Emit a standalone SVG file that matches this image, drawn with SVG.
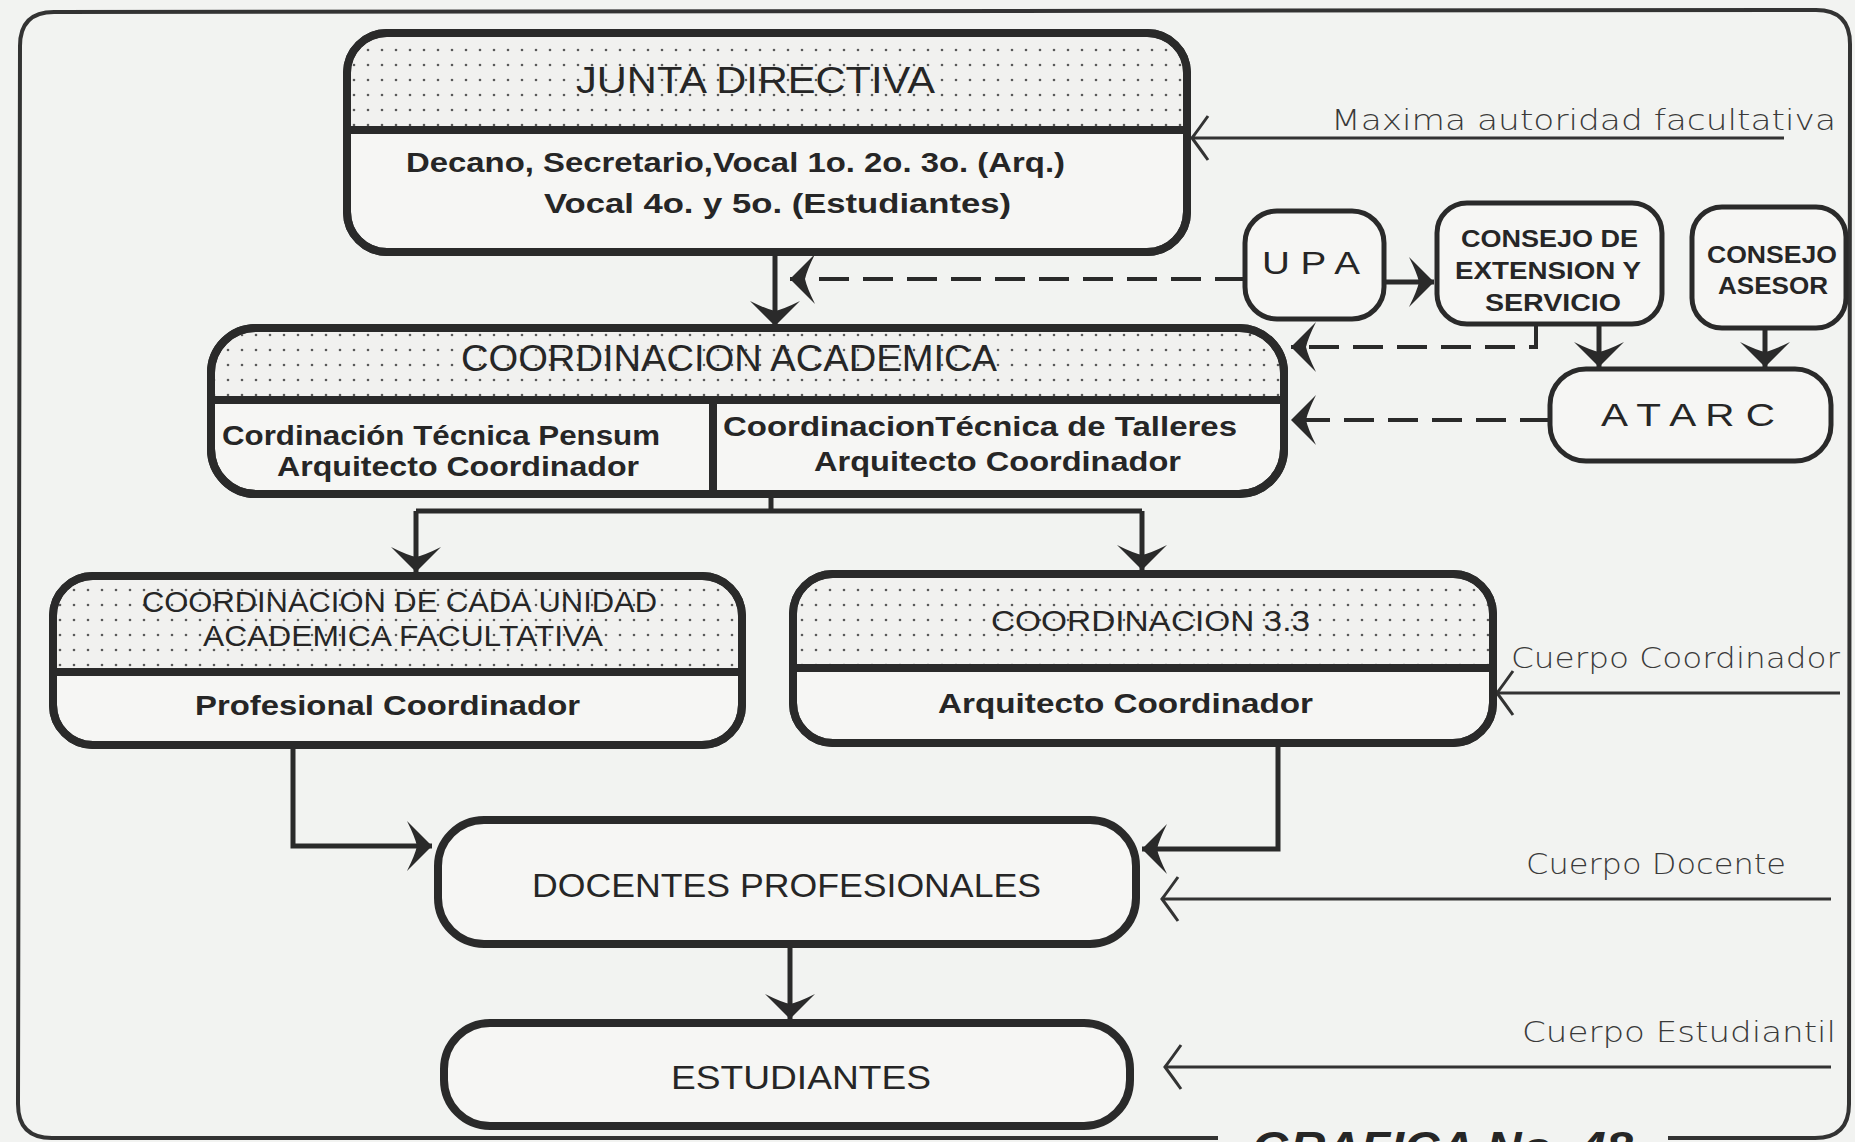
<svg xmlns="http://www.w3.org/2000/svg" width="1855" height="1142" viewBox="0 0 1855 1142">
<style>
.bg{fill:#f2f3f1}
.box{fill:#f6f6f4;stroke:#2a2a2a;stroke-width:8}
.sbox{fill:#f6f6f4;stroke:#2a2a2a;stroke-width:5}
.hdr{fill:url(#dots);stroke:none}
.div{stroke:#2a2a2a;stroke-width:8;fill:none}
.con{stroke:#2a2a2a;stroke-width:5;fill:none}
.dash{stroke:#2a2a2a;stroke-width:4;fill:none;stroke-dasharray:30 14}
.thin{stroke:#333;stroke-width:3;fill:none}
.frame{stroke:#333;stroke-width:4;fill:none}
.t{font-family:"Liberation Sans","DejaVu Sans",sans-serif;fill:#262626}
.h{font-size:36px;font-weight:normal}
.b{font-size:28px;font-weight:bold}
.lbl{font-family:"DejaVu Sans","Liberation Sans",sans-serif;font-size:29px;font-weight:300;fill:#3a3a3a}
</style>
<defs>
<pattern id="dots" width="14" height="15" patternUnits="userSpaceOnUse">
<rect width="14" height="15" fill="#f1f1ef"/>
<circle cx="4" cy="5" r="1.3" fill="#5a5a5a"/>
</pattern>
<marker id="ah" viewBox="-28 -28 30 56" refX="0" refY="0" markerWidth="30" markerHeight="56" orient="auto" markerUnits="userSpaceOnUse">
<path d="M0,0 L-25,-25 Q-17,-9 -15,0 Q-17,9 -25,25 Z" fill="#2a2a2a"/>
</marker>
<marker id="oh" viewBox="-20 -26 24 52" refX="0" refY="0" markerWidth="24" markerHeight="52" orient="auto" markerUnits="userSpaceOnUse">
<path d="M-16,-22 Q-6,-8 0,0 Q-6,8 -16,22" fill="none" stroke="#333" stroke-width="3"/>
</marker>
</defs>
<rect class="bg" x="0" y="0" width="1855" height="1142"/>
<path class="frame" d="M1218,1138 L52,1138 Q18,1138 18,1104 L20,46 Q20,12 54,12 L1816,10 Q1850,10 1850,44 L1849,1104 Q1849,1138 1815,1138 L1668,1138"/>

<g id="connectors">
<path class="con" d="M775,252 L775,326" marker-end="url(#ah)"/>
<path class="dash" d="M1245,279 L790,279" marker-end="url(#ah)"/>
<path class="con" d="M1384,282 L1434,282" marker-end="url(#ah)"/>
<path class="con" d="M1599,324 L1599,367" marker-end="url(#ah)"/>
<path class="con" d="M1765,328 L1765,367" marker-end="url(#ah)"/>
<path class="dash" d="M1536,324 L1536,347 L1291,347" marker-end="url(#ah)"/>
<path class="dash" d="M1550,420 L1291,420" marker-end="url(#ah)"/>
<path class="con" d="M771,494 L771,511 M416,511 L1142,511"/>
<path class="con" d="M416,511 L416,572" marker-end="url(#ah)"/>
<path class="con" d="M1142,511 L1142,570" marker-end="url(#ah)"/>
<path class="con" d="M293,745 L293,846 L432,846" marker-end="url(#ah)"/>
<path class="con" d="M1278,743 L1278,849 L1142,849" marker-end="url(#ah)"/>
<path class="con" d="M790,944 L790,1019" marker-end="url(#ah)"/>
<path class="thin" d="M1784,138 L1192,138" marker-end="url(#oh)"/>
<path class="thin" d="M1840,693 L1497,693" marker-end="url(#oh)"/>
<path class="thin" d="M1831,899 L1162,899" marker-end="url(#oh)"/>
<path class="thin" d="M1831,1067 L1165,1067" marker-end="url(#oh)"/>
</g>

<g id="junta">
<rect class="box" x="347" y="33" width="840" height="219" rx="40"/>
<path class="hdr" d="M351,130 L351,73 A36,36 0 0 1 387,37 L1147,37 A36,36 0 0 1 1183,73 L1183,130 Z"/>
<line class="div" x1="347" y1="130" x2="1187" y2="130"/>
<rect x="347" y="33" width="840" height="219" rx="40" fill="none" stroke="#2a2a2a" stroke-width="8"/>
<text class="t h" x="576" y="93" textLength="359" lengthAdjust="spacingAndGlyphs">JUNTA DIRECTIVA</text>
<text class="t b" x="406" y="172" textLength="659" lengthAdjust="spacingAndGlyphs">Decano, Secretario,Vocal 1o. 2o. 3o. (Arq.)</text>
<text class="t b" x="544" y="213" textLength="467" lengthAdjust="spacingAndGlyphs">Vocal 4o. y 5o. (Estudiantes)</text>
</g>

<g id="upa">
<rect class="sbox" x="1245" y="211" width="139" height="108" rx="32"/>
<text class="t" x="1262" y="274" font-size="31" textLength="98" lengthAdjust="spacingAndGlyphs">U P A</text>
</g>

<g id="consejo-extension">
<rect class="sbox" x="1437" y="203" width="225" height="121" rx="30"/>
<text class="t" x="1461" y="247" font-size="24" font-weight="bold" textLength="177" lengthAdjust="spacingAndGlyphs">CONSEJO DE</text>
<text class="t" x="1455" y="279" font-size="24" font-weight="bold" textLength="186" lengthAdjust="spacingAndGlyphs">EXTENSION Y</text>
<text class="t" x="1485" y="311" font-size="24" font-weight="bold" textLength="136" lengthAdjust="spacingAndGlyphs">SERVICIO</text>
</g>

<g id="consejo-asesor">
<rect class="sbox" x="1692" y="207" width="154" height="121" rx="30"/>
<text class="t" x="1707" y="263" font-size="24" font-weight="bold" textLength="130" lengthAdjust="spacingAndGlyphs">CONSEJO</text>
<text class="t" x="1718" y="294" font-size="24" font-weight="bold" textLength="110" lengthAdjust="spacingAndGlyphs">ASESOR</text>
</g>

<g id="atarc">
<rect class="sbox" x="1550" y="369" width="281" height="92" rx="36"/>
<text class="t" x="1601" y="426" font-size="32" textLength="174" lengthAdjust="spacingAndGlyphs">A T A R C</text>
</g>

<g id="coordinacion-academica">
<rect class="box" x="211" y="328" width="1073" height="166" rx="45"/>
<path class="hdr" d="M215,400 L215,373 A41,41 0 0 1 256,332 L1239,332 A41,41 0 0 1 1280,373 L1280,400 Z"/>
<line class="div" x1="211" y1="400" x2="1284" y2="400"/>
<line class="div" x1="713" y1="400" x2="713" y2="494"/>
<rect x="211" y="328" width="1073" height="166" rx="45" fill="none" stroke="#2a2a2a" stroke-width="8"/>
<text class="t h" x="461" y="371" textLength="536" lengthAdjust="spacingAndGlyphs">COORDINACION ACADEMICA</text>
<text class="t b" x="222" y="445" textLength="438" lengthAdjust="spacingAndGlyphs">Cordinación Técnica Pensum</text>
<text class="t b" x="277" y="476" textLength="362" lengthAdjust="spacingAndGlyphs">Arquitecto Coordinador</text>
<text class="t b" x="723" y="436" textLength="514" lengthAdjust="spacingAndGlyphs">CoordinacionTécnica de Talleres</text>
<text class="t b" x="814" y="471" textLength="367" lengthAdjust="spacingAndGlyphs">Arquitecto Coordinador</text>
</g>

<g id="coordinacion-unidad">
<rect class="box" x="53" y="576" width="689" height="169" rx="40"/>
<path class="hdr" d="M57,672 L57,616 A36,36 0 0 1 93,580 L702,580 A36,36 0 0 1 738,616 L738,672 Z"/>
<line class="div" x1="53" y1="672" x2="742" y2="672"/>
<rect x="53" y="576" width="689" height="169" rx="40" fill="none" stroke="#2a2a2a" stroke-width="8"/>
<text class="t" x="142" y="612" font-size="30" textLength="515" lengthAdjust="spacingAndGlyphs">COORDINACION DE CADA UNIDAD</text>
<text class="t" x="203" y="646" font-size="30" textLength="400" lengthAdjust="spacingAndGlyphs">ACADEMICA FACULTATIVA</text>
<text class="t b" x="195" y="715" textLength="385" lengthAdjust="spacingAndGlyphs">Profesional Coordinador</text>
</g>

<g id="coordinacion-33">
<rect class="box" x="793" y="574" width="700" height="169" rx="40"/>
<path class="hdr" d="M797,668 L797,614 A36,36 0 0 1 833,578 L1453,578 A36,36 0 0 1 1489,614 L1489,668 Z"/>
<line class="div" x1="793" y1="668" x2="1493" y2="668"/>
<rect x="793" y="574" width="700" height="169" rx="40" fill="none" stroke="#2a2a2a" stroke-width="8"/>
<text class="t" x="991" y="631" font-size="30" textLength="319" lengthAdjust="spacingAndGlyphs">COORDINACION 3.3</text>
<text class="t b" x="938" y="713" textLength="375" lengthAdjust="spacingAndGlyphs">Arquitecto Coordinador</text>
</g>

<g id="docentes">
<rect class="box" x="438" y="820" width="698" height="124" rx="46"/>
<text class="t" x="532" y="897" font-size="34" textLength="509" lengthAdjust="spacingAndGlyphs">DOCENTES PROFESIONALES</text>
</g>

<g id="estudiantes">
<rect class="box" x="444" y="1023" width="686" height="103" rx="46"/>
<text class="t" x="671" y="1089" font-size="34" textLength="260" lengthAdjust="spacingAndGlyphs">ESTUDIANTES</text>
</g>

<g id="labels">
<text class="lbl" x="1331" y="130" textLength="505" lengthAdjust="spacingAndGlyphs">Maxima autoridad facultativa</text>
<text class="lbl" x="1511" y="668" textLength="329" lengthAdjust="spacingAndGlyphs">Cuerpo Coordinador</text>
<text class="lbl" x="1526" y="874" textLength="260" lengthAdjust="spacingAndGlyphs">Cuerpo Docente</text>
<text class="lbl" x="1522" y="1042" textLength="314" lengthAdjust="spacingAndGlyphs">Cuerpo Estudiantil</text>
<text class="t" x="1252" y="1163" font-size="44" font-weight="bold" font-style="italic" textLength="381" lengthAdjust="spacingAndGlyphs">GRAFICA No. 48</text>
</g>
</svg>
